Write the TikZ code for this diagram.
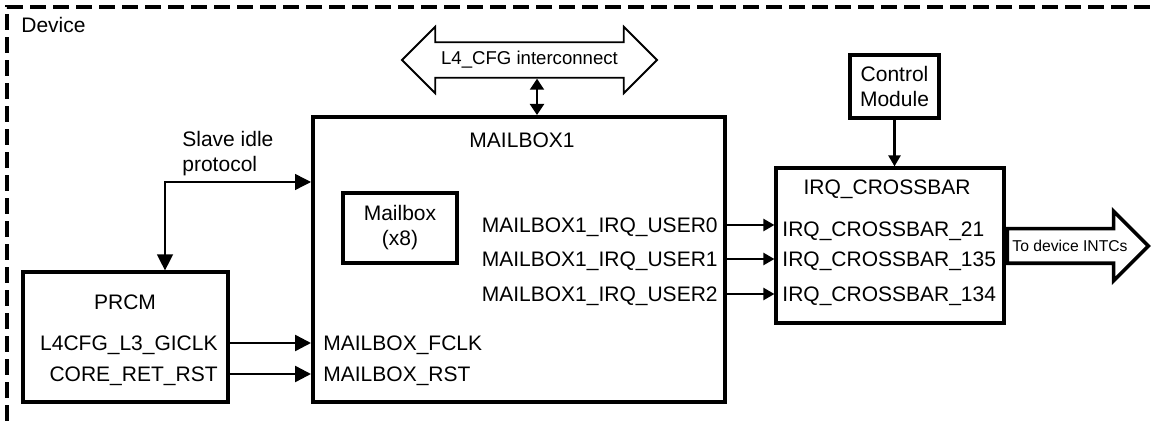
\documentclass[tikz,border=0pt]{standalone}
\usepackage{fontspec}
\setmainfont{Liberation Sans}
\usetikzlibrary{arrows.meta,shapes.arrows}
\tikzset{
  blk/.style={draw, line width=1.6pt, inner sep=0pt},
  sig/.style={inner sep=0pt, text height=7.5pt, text depth=0pt},
  bigtip/.style={-{Triangle[length=8pt,width=8pt]}},
  smalltip/.style={-{Triangle[length=5.5pt,width=6pt]}},
  wire/.style={line width=1.2pt}
}
\begin{document}
\begin{tikzpicture}[x=0.5pt, y=-0.5pt, font=\fontsize{10.5pt}{12.5pt}\selectfont]
      \useasboundingbox (0,0) rectangle (1154,421);
      \draw[line width=1.6pt, dash pattern=on 8pt off 3.5pt] (7,421) -- (7,7) -- (1154,7);
      \node[sig, anchor=west] (device) at (21,25) {Device};
      \node[blk, line width=2pt, minimum width=206pt, minimum height=142.5pt] (mailbox1) at (519,259.5) {};
      \node[sig] (mbtitle) at (522,140) {MAILBOX1};
      \node[blk, align=center, minimum width=57pt, minimum height=35pt] (mailbox) at (400,228) {Mailbox\\(x8)};
      \node[blk, minimum width=102.5pt, minimum height=65pt] (prcm) at (125.5,337) {};
      \node[sig] (prcmtitle) at (125,302) {PRCM};
      \node[blk, minimum width=114pt, minimum height=77.5pt] (crossbar) at (890,245.5) {};
      \node[sig] (cbtitle) at (887,187) {IRQ\_CROSSBAR};
      \node[blk, align=center, minimum width=44.5pt, minimum height=31.5pt] (ctrl) at (894.5,86.5) {Control\\Module};
      \node[double arrow, draw, line width=0.9pt, font=\fontsize{9.3pt}{11pt}\selectfont,
            inner xsep=0pt, inner ysep=4.25pt, text height=6.5pt, text depth=1.9pt,
            double arrow head extend=7.75pt, double arrow tip angle=90,
            minimum height=127.5pt] (l4) at (529.5,60) {L4\_CFG interconnect};
      \node[single arrow, draw, line width=1.8pt, anchor=tail,
            inner xsep=0pt, inner ysep=4.05pt, text height=5.7pt, text depth=1.7pt,
            single arrow head extend=8.75pt, single arrow tip angle=90,
            minimum height=70.5pt] (intc) at (crossbar.east |- 0,246) {};
      \node[inner sep=0pt, font=\fontsize{7.85pt}{9pt}\selectfont] (intctext) at (1070,246) {To device INTCs};
      \node[align=left, anchor=west, inner sep=0pt] (slave) at (182,154) {Slave idle\\protocol};
      \node[sig, anchor=east] (giclk) at (218,343) {L4CFG\_L3\_GICLK};
      \node[sig, anchor=east] (coreret) at (218,374) {CORE\_RET\_RST};
      \node[sig, anchor=west] (fclk) at (323,343) {MAILBOX\_FCLK};
      \node[sig, anchor=west] (mrst) at (323,374) {MAILBOX\_RST};
      \node[sig, anchor=east] (user0) at (718,225) {MAILBOX1\_IRQ\_USER0};
      \node[sig, anchor=east] (user1) at (718,259) {MAILBOX1\_IRQ\_USER1};
      \node[sig, anchor=east] (user2) at (718,294) {MAILBOX1\_IRQ\_USER2};
      \node[sig, anchor=west] (cb21) at (782,229) {IRQ\_CROSSBAR\_21};
      \node[sig, anchor=west] (cb135) at (782,259) {IRQ\_CROSSBAR\_135};
      \node[sig, anchor=west] (cb134) at (782,294) {IRQ\_CROSSBAR\_134};
      \coordinate (sidle) at (165,182);
      \coordinate (l4x) at (537,0);
      \draw[line width=0.7pt, {Triangle[length=8pt,width=8pt]}-{Triangle[length=8pt,width=8pt]}]
            (mailbox1.west |- sidle) -- (sidle) -- (sidle |- prcm.north);
      \draw[line width=1pt, {Triangle[length=5.5pt,width=7pt]}-{Triangle[length=5.5pt,width=7pt]}]
            (l4x |- l4.south) -- (l4x |- mailbox1.north);
      \draw[wire, bigtip] (prcm.east |- giclk) -- (mailbox1.west |- fclk);
      \draw[wire, bigtip] (prcm.east |- coreret) -- (mailbox1.west |- mrst);
      \draw[wire, smalltip] (mailbox1.east |- user0) -- (crossbar.west |- user0);
      \draw[wire, smalltip] (mailbox1.east |- user1) -- (crossbar.west |- user1);
      \draw[wire, smalltip] (mailbox1.east |- user2) -- (crossbar.west |- user2);
      \draw[wire, smalltip] (ctrl.south) -- (ctrl.south |- crossbar.north);
    \end{tikzpicture}
\end{document}
